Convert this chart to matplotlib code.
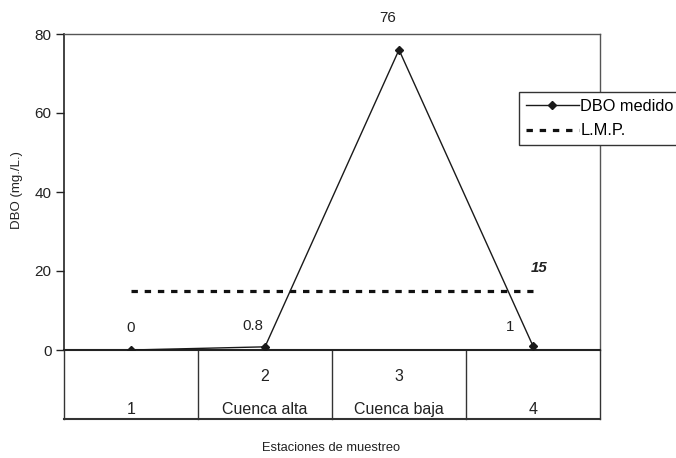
import matplotlib
matplotlib.use('Agg')
import matplotlib.pyplot as plt

plt.rcParams['font.family'] = ['Liberation Sans', 'DejaVu Sans']

estaciones = [1, 2, 3, 4]
fila_sup = ['', '2', '3', '']
fila_inf = ['1', 'Cuenca alta', 'Cuenca baja', '4']
dbo = [0, 0.8, 76, 1]
etiquetas = ['0', '0.8', '76', '1']
lmp = [15, 15, 15, 15]

fig = plt.figure(figsize=(6.76, 4.58), dpi=100)
ax = fig.add_axes([64/676, 1-350/458, 536/676, 316/458])

ax.plot(estaciones, dbo, color='#1a1a1a', lw=1, marker='D', ms=4.5,
        mfc='#1a1a1a', mec='#1a1a1a', label='DBO medido', zorder=3)
ax.plot(estaciones, lmp, color='#111111', lw=2.3, ls=(0, (2, 2.13)),
        label='L.M.P.', zorder=2)

# etiquetas de datos
offs = [(0, 22), (-12, 21), (-11, 32), (-23, 19)]
for x, y, t, o in zip(estaciones, dbo, etiquetas, offs):
    ax.annotate(t, (x, y), xytext=o, textcoords='offset pixels',
                ha='center', va='center', fontsize=10.8, color='#222222')
ax.annotate('15', (estaciones[-1], lmp[-1]), xytext=(6, 23),
            textcoords='offset pixels', ha='center', va='center',
            fontsize=10.8, fontweight='bold', fontstyle='italic', color='#222222')

ax.set_xlim(0.5, 4.5)
ax.set_ylim(0, 80)
ax.set_yticks([0, 20, 40, 60, 80])
ax.set_xticks([])
ax.tick_params(axis='y', direction='out', length=6, width=1, labelsize=11,
               colors='#222222', pad=3)

for s in ['top', 'right']:
    ax.spines[s].set_color('#555555')
    ax.spines[s].set_linewidth(1)
ax.spines['left'].set_color('#222222')
ax.spines['left'].set_linewidth(1.2)
ax.spines['bottom'].set_color('#222222')
ax.spines['bottom'].set_linewidth(1.5)

# tabla de categorias bajo el eje
tr = ax.get_xaxis_transform()
yb = -69/316
for xv in [0.5, 1.5, 2.5, 3.5, 4.5]:
    ax.plot([xv, xv], [0, yb], transform=tr, color='#333333', lw=1, clip_on=False)
ax.plot([0.5, 4.5], [yb, yb], transform=tr, color='#333333', lw=1.5, clip_on=False)
for x, a, b in zip(estaciones, fila_sup, fila_inf):
    ax.text(x, -31/316, a, transform=tr, ha='center', va='baseline',
            fontsize=11.5, color='#222222')
    ax.text(x, -64/316, b, transform=tr, ha='center', va='baseline',
            fontsize=11.5, color='#222222')

fig.text(17/676, 1-190/458, 'DBO (mg./L.)', rotation=90, ha='center', va='center',
         fontsize=9.5, color='#222222')
fig.text(331/676, 1-448/458, 'Estaciones de muestreo', ha='center', va='center',
         fontsize=9.3, color='#222222')

leg = ax.legend(loc='upper left', bbox_to_anchor=(519/676, 1-92/458),
                bbox_transform=fig.transFigure, fancybox=False, framealpha=1,
                edgecolor='#333333', fontsize=11.8, handlelength=3.25,
                handletextpad=0.08, borderpad=0.4, labelspacing=0.6,
                borderaxespad=0)
leg.get_frame().set_linewidth(1)

fig.savefig('out.png', dpi=100)
